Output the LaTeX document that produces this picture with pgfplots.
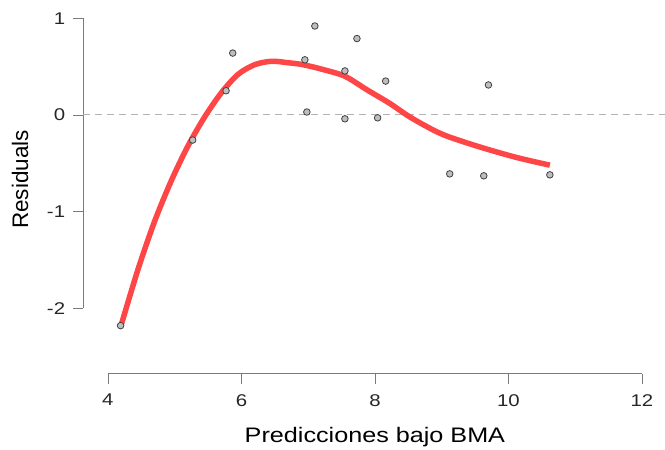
\documentclass[border=0pt]{standalone}
\usepackage{fontspec}
\setmainfont{Liberation Sans}
\usepackage{pgfplots}
\pgfplotsset{compat=1.18}
\definecolor{fitred}{HTML}{FF4646}
\definecolor{axgray}{HTML}{7A7A7A}
\definecolor{ptfill}{HTML}{BEBEBE}

\begin{document}
\begin{tikzpicture}
\begin{axis}[
 scale only axis,width=582pt,height=374pt,
 xmin=3.626,xmax=12.338,ymin=-2.678,ymax=1.189,
 axis lines*=left,axis line style={draw=none},
 xtick={4,6,8,10,12},ytick={-2,-1,0,1},
 tick align=outside,major tick length=10pt,
 tick style={axgray,line width=0.8pt},
 /pgf/number format/assume math mode=true,
 ticklabel style={font=\fontsize{17}{20}\selectfont,text=black!85,xscale=1.2},
 xticklabel style={anchor=north,yshift=-7pt},
 yticklabel style={anchor=east,xshift=-3pt},
 every axis x label/.style={at={(rel axis cs:0.502,0)},yshift=-63pt,anchor=center,
   font=\fontsize{21}{24}\selectfont,xscale=1.2},
 every axis y label/.style={at={(rel axis cs:0,0.52)},xshift=-63pt,anchor=center,rotate=90,
   font=\fontsize{22.5}{26}\selectfont},
 xlabel={Predicciones bajo BMA},ylabel={Residuals},
 clip=false]
\draw[axgray,line width=0.8pt] (axis cs:4,-2.678)--(axis cs:12,-2.678);
\draw[axgray,line width=0.8pt] (axis cs:3.626,-2)--(axis cs:3.626,1);
\addplot[black!30,line width=0.9pt,dash pattern=on 7pt off 5pt] coordinates {(3.626,0)(12.338,0)};
\addplot[fitred,line width=5.5pt,smooth] coordinates {
(4.205,-2.16)(4.45,-1.60)(4.70,-1.10)(4.95,-0.68)(5.20,-0.32)(5.45,-0.02)(5.70,0.23)
(5.95,0.42)(6.20,0.52)(6.45,0.555)(6.70,0.54)(6.92,0.52)(7.22,0.47)
(7.55,0.40)(7.88,0.26)(8.22,0.12)(8.52,-0.02)(8.87,-0.155)(9.12,-0.23)(9.61,-0.34)
(10.12,-0.44)(10.62,-0.52)};
\addplot[only marks,mark=*,mark size=3.3pt,mark options={fill=ptfill,draw=black!75,line width=0.8pt}]
coordinates {
(4.19,-2.18)(5.27,-0.26)(5.77,0.25)(5.87,0.64)(6.95,0.57)(6.98,0.03)(7.10,0.92)
(7.55,0.455)(7.55,-0.04)(7.73,0.79)(8.04,-0.03)(8.16,0.35)(9.12,-0.61)(9.63,-0.63)
(9.70,0.31)(10.62,-0.62)};
\coordinate (sw) at (rel axis cs:0,0);
\coordinate (ne) at (rel axis cs:1,1);
\end{axis}
\path (sw) ++(-83pt,-74pt) rectangle (ne);
\end{tikzpicture}
\end{document}
